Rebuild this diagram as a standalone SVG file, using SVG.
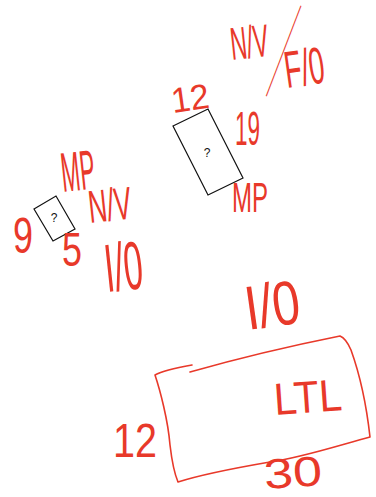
<svg xmlns="http://www.w3.org/2000/svg" width="376" height="497" viewBox="0 0 376 497">
<style>
.hw{fill:#e8392a;font-family:"Liberation Sans",Arial,sans-serif;font-weight:normal;font-size:20px;}
.box{fill:#ffffff;stroke:#111111;stroke-width:1.2;}
.q{fill:#111111;font-family:"Liberation Sans",Arial,sans-serif;font-size:12px;text-anchor:middle;}
.red{fill:none;stroke:#e8392a;stroke-width:1.6;stroke-linecap:round;stroke-linejoin:round;}
</style>
<rect width="376" height="497" fill="#ffffff"/>
<g id="labels-top">
<text class="hw" transform="translate(232,60) rotate(-6) scale(1,2.3)" textLength="38" lengthAdjust="spacingAndGlyphs">N/V</text>
<text class="hw" transform="translate(284,50) rotate(21) scale(1,2.3)" x="-1.5" y="12" style="font-size:45px" textLength="3" lengthAdjust="spacingAndGlyphs">|</text>
<text class="hw" transform="translate(287,88) rotate(-8) scale(1,2.6)" textLength="40" lengthAdjust="spacingAndGlyphs">F/0</text>
</g>
<g id="node-upper">
<polygon class="box" points="173,126 208,109 243,178 208,195"/>
<text class="q" x="207" y="157">?</text>
<text class="hw" transform="translate(173,113) rotate(-8) scale(1,1.95)" style="font-size:18px" textLength="38" lengthAdjust="spacingAndGlyphs">12</text>
<text class="hw" transform="translate(235,145) scale(1,2.45)" textLength="25" lengthAdjust="spacingAndGlyphs">19</text>
<text class="hw" transform="translate(232,212) scale(1,2.1)" textLength="36" lengthAdjust="spacingAndGlyphs">MP</text>
</g>
<g id="node-small">
<polygon class="box" points="34,209 56,196 75,229 53,241"/>
<text class="q" x="54" y="222">?</text>
<text class="hw" transform="translate(63,192) rotate(-6) scale(1,2.8)" textLength="34" lengthAdjust="spacingAndGlyphs">MP</text>
<text class="hw" transform="translate(90,223) rotate(-6) scale(1,2.3)" textLength="43" lengthAdjust="spacingAndGlyphs">N/V</text>
<text class="hw" transform="translate(13,253) scale(1,2.5)" textLength="20" lengthAdjust="spacingAndGlyphs">9</text>
<text class="hw" transform="translate(62,266) scale(1,2.4)" textLength="20" lengthAdjust="spacingAndGlyphs">5</text>
<text class="hw" transform="translate(107,292) rotate(-6) scale(1,3.4)" textLength="38" lengthAdjust="spacingAndGlyphs">I/0</text>
</g>
<g id="node-ltl">
<path class="red" d="M192,365 C175,368 162,371 155,375 C160,390 168,420 170,445 C172,462 175,475 178,482 C200,475 235,468 270,462 C300,458 340,445 370,437 C367,410 360,375 351,350 C348,343 345,338 340,336 C300,344 250,355 190,372"/>
<text class="hw" transform="translate(275,415) rotate(-4) scale(1,2.25)" textLength="68" lengthAdjust="spacingAndGlyphs">LTL</text>
<text class="hw" transform="translate(248,330) rotate(-8) scale(1,3.1)" textLength="55" lengthAdjust="spacingAndGlyphs">I/0</text>
<text class="hw" transform="translate(113,457) scale(1,2.4)" textLength="44" lengthAdjust="spacingAndGlyphs">12</text>
<text class="hw" transform="translate(265,489) rotate(-4) scale(1,2.1)" textLength="58" lengthAdjust="spacingAndGlyphs">30</text>
</g>
<g id="connectors"/>
</svg>
